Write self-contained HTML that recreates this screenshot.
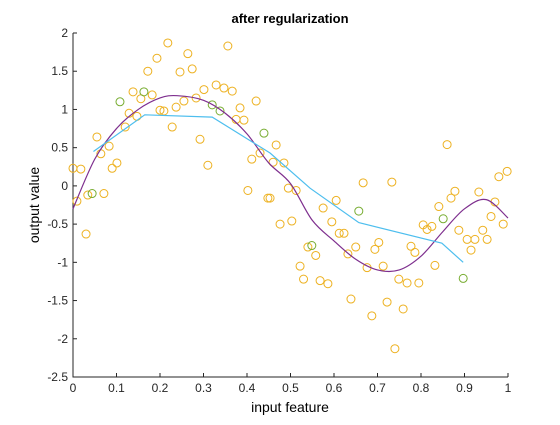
<!DOCTYPE html>
<html><head><meta charset="utf-8"><style>
body{margin:0;background:#fff}
svg text{font-family:"Liberation Sans",sans-serif}
</style></head><body>
<svg id="chart" width="560" height="420">
<rect width="560" height="420" fill="#fff"/>
<text x="290" y="23" text-anchor="middle" font-size="13" font-weight="bold">after regularization</text>
<text x="290" y="412" text-anchor="middle" font-size="14">input feature</text>
<text transform="translate(39,205) rotate(-90)" text-anchor="middle" font-size="14">output value</text>
<g id="ticks"></g>
<g id="marks"></g>
</svg>
<script>
const xTicks=[0,0.1,0.2,0.3,0.4,0.5,0.6,0.7,0.8,0.9,1];
const xTickLabels=["0","0.1","0.2","0.3","0.4","0.5","0.6","0.7","0.8","0.9","1"];
const yTicks=[-2.5,-2,-1.5,-1,-0.5,0,0.5,1,1.5,2];
const yTickLabels=["-2.5","-2","-1.5","-1","-0.5","0","0.5","1","1.5","2"];
const trainX=[0,0.018,0.009,0.034,0.071,0.055,0.064,0.083,0.09,0.101,0.12,0.129,0.147,0.138,0.156,0.182,0.172,0.193,0.218,0.2,0.209,0.228,0.237,0.255,0.246,0.264,0.274,0.283,0.292,0.301,0.31,0.329,0.347,0.356,0.366,0.384,0.375,0.393,0.402,0.421,0.411,0.43,0.448,0.03,0.467,0.46,0.485,0.453,0.495,0.513,0.476,0.503,0.667,0.733,0.605,0.575,0.595,0.612,0.623,0.54,0.558,0.522,0.53,0.568,0.586,0.632,0.65,0.703,0.694,0.676,0.713,0.749,0.768,0.795,0.639,0.722,0.687,0.759,0.74,0.777,0.786,0.832,0.805,0.814,0.825,0.841,0.86,0.869,0.878,0.887,0.906,0.924,0.915,0.942,0.952,0.933,0.961,0.97,0.989,0.979,0.998];
const trainY=[0.23,0.22,-0.2,-0.12,-0.1,0.64,0.42,0.52,0.23,0.3,0.77,0.95,0.91,1.23,1.14,1.19,1.5,1.67,1.87,0.99,0.98,0.77,1.03,1.11,1.49,1.73,1.53,1.15,0.61,1.26,0.27,1.32,1.28,1.83,1.24,1.02,0.87,0.86,-0.06,1.11,0.35,0.43,-0.16,-0.63,0.535,0.31,0.3,-0.16,-0.03,-0.06,-0.5,-0.46,0.04,0.05,-0.19,-0.29,-0.47,-0.62,-0.62,-0.8,-0.91,-1.05,-1.22,-1.24,-1.28,-0.89,-0.8,-0.74,-0.83,-1.07,-1.05,-1.22,-1.27,-1.27,-1.48,-1.52,-1.7,-1.61,-2.13,-0.79,-0.87,-1.04,-0.51,-0.57,-0.53,-0.27,0.54,-0.16,-0.07,-0.58,-0.7,-0.7,-0.84,-0.58,-0.7,-0.08,-0.4,-0.21,-0.5,0.12,0.19];
const testX=[0.108,0.163,0.044,0.32,0.338,0.439,0.657,0.549,0.851,0.897];
const testY=[1.1,1.23,-0.1,1.06,0.98,0.69,-0.33,-0.78,-0.43,-1.21];
const fitX=[0,0.05,0.1,0.15,0.2,0.24,0.3,0.35,0.4,0.45,0.5,0.55,0.6,0.65,0.7,0.75,0.8,0.85,0.9,0.95,1.0];
const fitY=[-0.3,0.35,0.75,1.0,1.15,1.18,1.12,0.95,0.68,0.3,0.03,-0.45,-0.72,-0.96,-1.1,-1.1,-0.92,-0.6,-0.3,-0.18,-0.42];
const knnX=[0.047,0.165,0.32,0.453,0.545,0.657,0.848,0.897];
const knnY=[0.45,0.93,0.9,0.43,-0.03,-0.48,-0.75,-1.0];
const L=73,R=508,T=33,B=377;
const sx=v=>L+v*(R-L);
const sy=v=>T+(2-v)/4.5*(B-T);
const NS="http://www.w3.org/2000/svg";
function mk(tag,attrs,parent){const e=document.createElementNS(NS,tag);for(const k in attrs)e.setAttribute(k,attrs[k]);parent.appendChild(e);return e;}
const tg=document.getElementById('ticks'), mg=document.getElementById('marks');
const frame=mk('path',{d:`M${L},${T}V${B}H${R}`,fill:'none',stroke:'#262626','stroke-width':1},tg);


xTicks.forEach((v,i)=>{
  const ln=mk('line',{x1:sx(v),x2:sx(v),y1:B,y2:B-4,stroke:'#262626'},tg);
  
  
  const t=mk('text',{x:sx(v),y:B+15,'text-anchor':'middle','font-size':12,fill:'#262626'},tg);
  t.textContent=xTickLabels[i];
  
  
});
yTicks.forEach((v,i)=>{
  const ln=mk('line',{x1:L,x2:L+4,y1:sy(v),y2:sy(v),stroke:'#262626'},tg);
  
  
  const t=mk('text',{x:L-5,y:sy(v)+4,'text-anchor':'end','font-size':12,fill:'#262626'},tg);
  t.textContent=yTickLabels[i];
  
  
});
trainX.forEach((v,i)=>{
  const c=mk('circle',{cx:sx(v),cy:sy(trainY[i]),r:4,fill:'none',stroke:'#EDB120','stroke-width':1},mg);
  
  
});
testX.forEach((v,i)=>{
  const c=mk('circle',{cx:sx(v),cy:sy(testY[i]),r:4,fill:'none',stroke:'#77AC30','stroke-width':1},mg);
  
  
});
// smooth curve via Catmull-Rom
let pts=fitX.map((v,i)=>[sx(v),sy(fitY[i])]);
let d=`M${pts[0][0]},${pts[0][1]}`;
for(let i=0;i<pts.length-1;i++){
  const p0=pts[Math.max(0,i-1)],p1=pts[i],p2=pts[i+1],p3=pts[Math.min(pts.length-1,i+2)];
  d+=`C${p1[0]+(p2[0]-p0[0])/6},${p1[1]+(p2[1]-p0[1])/6} ${p2[0]-(p3[0]-p1[0])/6},${p2[1]-(p3[1]-p1[1])/6} ${p2[0]},${p2[1]}`;
}
const fl=mk('path',{d:d,fill:'none',stroke:'#7E2F8E','stroke-width':1.2},mg);


const kl=mk('polyline',{points:knnX.map((v,i)=>`${sx(v)},${sy(knnY[i])}`).join(' '),fill:'none',stroke:'#4DBEEE','stroke-width':1.2},mg);


</script>
</body></html>
